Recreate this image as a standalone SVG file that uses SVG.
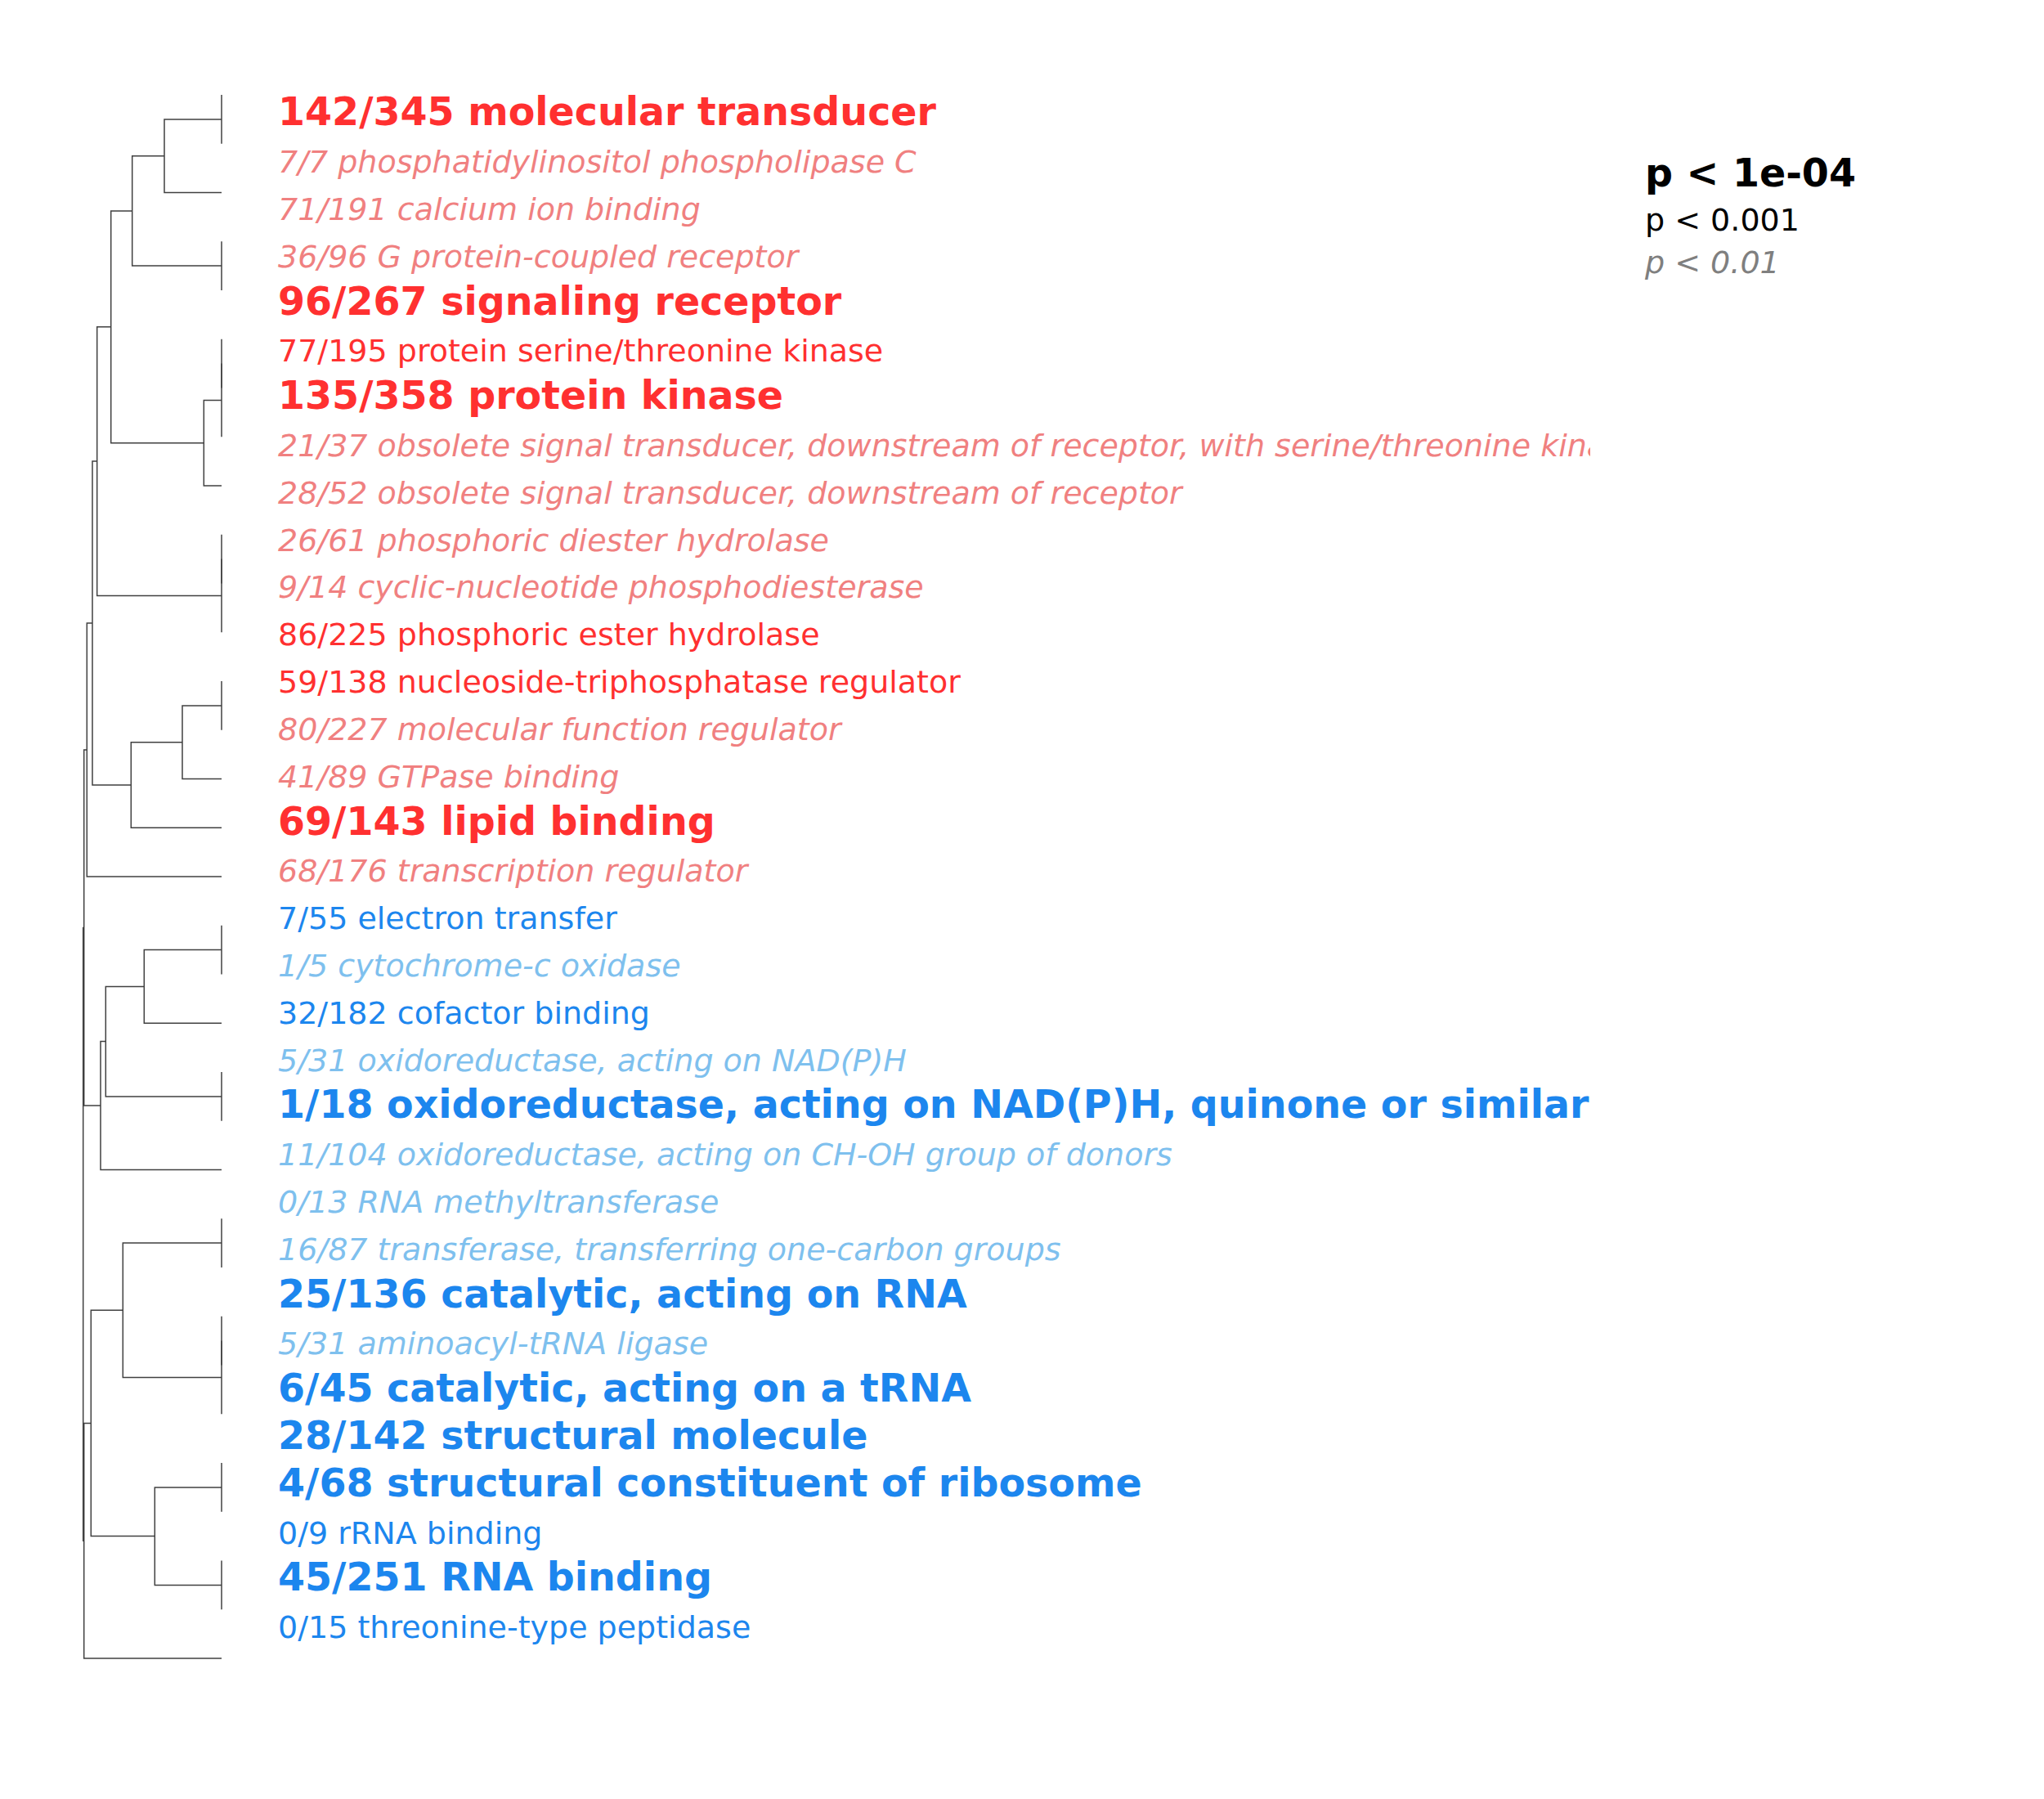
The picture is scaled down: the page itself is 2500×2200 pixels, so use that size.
<svg xmlns="http://www.w3.org/2000/svg" width="2500" height="2200" viewBox="0 0 2500 2200">
<defs>
<clipPath id="clip"><rect x="0" y="0" width="1945" height="2200"/></clipPath>
</defs>
<style>
text{font-family:"DejaVu Sans","Liberation Sans",sans-serif}
.b{font-size:47.5px;font-weight:bold}
.r{font-size:38px}
.i{font-size:38px;font-style:italic}
.rd{fill:#FF3030}
.lc{fill:#F08080}
.bl{fill:#1C86EE}
.sb{fill:#7EC0EE}
#tree path{fill:none;stroke:#404040;stroke-width:1.5}
</style>
<rect width="2500" height="2200" fill="#fff"/>
<g id="tree">
<path d="M271,116 V175.75"/>
<path d="M271,145.9 H201 V235.5 H271"/>
<path d="M271,295.25 V355"/>
<path d="M201,190.7 H161.7 V325.1 H271"/>
<path d="M271,414.75 V474.5"/>
<path d="M271,444.6 V534.25"/>
<path d="M271,489.4 H249.3 V594 H271"/>
<path d="M161.7,257.9 H135.7 V541.7 H249.3"/>
<path d="M271,653.75 V713.5"/>
<path d="M271,683.6 V773.25"/>
<path d="M135.7,399.8 H118.7 V728.4 H271"/>
<path d="M271,833 V892.75"/>
<path d="M271,862.9 H223 V952.5 H271"/>
<path d="M223,907.7 H160.3 V1012.25 H271"/>
<path d="M118.7,564.1 H113 V960 H160.3"/>
<path d="M113,762 H106.3 V1072 H271"/>
<path d="M271,1131.75 V1191.5"/>
<path d="M271,1161.6 H176.3 V1251.25 H271"/>
<path d="M271,1311 V1370.75"/>
<path d="M176.3,1206.4 H129.3 V1340.9 H271"/>
<path d="M129.3,1273.6 H123 V1430.5 H271"/>
<path d="M271,1490.25 V1550"/>
<path d="M271,1609.75 V1669.5"/>
<path d="M271,1639.6 V1729.25"/>
<path d="M271,1520.1 H150.3 V1684.4 H271"/>
<path d="M271,1789 V1848.75"/>
<path d="M271,1908.5 V1968.25"/>
<path d="M271,1818.9 H189.3 V1938.4 H271"/>
<path d="M150.3,1602.3 H111.3 V1878.6 H189.3"/>
<path d="M106.3,917 H102.7 V1352 H123"/>
<path d="M111.3,1740.5 H102.7 V2028 H271"/>
<path d="M102.7,1134.5 H101.7 V1884.2 H102.7"/>
</g>
<g clip-path="url(#clip)">
<g id="t0"><text x="340" y="153.3" class="b rd">142/345 molecular transducer</text></g>
<g id="t1"><text x="340" y="211.1" class="i lc">7/7 phosphatidylinositol phospholipase C</text></g>
<g id="t2"><text x="340" y="268.9" class="i lc">71/191 calcium ion binding</text></g>
<g id="t3"><text x="340" y="326.7" class="i lc">36/96 G protein-coupled receptor</text></g>
<g id="t4"><text x="340" y="384.5" class="b rd">96/267 signaling receptor</text></g>
<g id="t5"><text x="340" y="442.4" class="r rd">77/195 protein serine/threonine kinase</text></g>
<g id="t6"><text x="340" y="500.2" class="b rd">135/358 protein kinase</text></g>
<g id="t7"><text x="340" y="558" class="i lc">21/37 obsolete signal transducer, downstream of receptor, with serine/threonine kinase</text></g>
<g id="t8"><text x="340" y="615.8" class="i lc">28/52 obsolete signal transducer, downstream of receptor</text></g>
<g id="t9"><text x="340" y="673.6" class="i lc">26/61 phosphoric diester hydrolase</text></g>
<g id="t10"><text x="340" y="731.4" class="i lc">9/14 cyclic-nucleotide phosphodiesterase</text></g>
<g id="t11"><text x="340" y="789.2" class="r rd">86/225 phosphoric ester hydrolase</text></g>
<g id="t12"><text x="340" y="847" class="r rd">59/138 nucleoside-triphosphatase regulator</text></g>
<g id="t13"><text x="340" y="904.8" class="i lc">80/227 molecular function regulator</text></g>
<g id="t14"><text x="340" y="962.6" class="i lc">41/89 GTPase binding</text></g>
<g id="t15"><text x="340" y="1020.5" class="b rd">69/143 lipid binding</text></g>
<g id="t16"><text x="340" y="1078.3" class="i lc">68/176 transcription regulator</text></g>
<g id="t17"><text x="340" y="1136.1" class="r bl">7/55 electron transfer</text></g>
<g id="t18"><text x="340" y="1193.9" class="i sb">1/5 cytochrome-c oxidase</text></g>
<g id="t19"><text x="340" y="1251.7" class="r bl">32/182 cofactor binding</text></g>
<g id="t20"><text x="340" y="1309.5" class="i sb">5/31 oxidoreductase, acting on NAD(P)H</text></g>
<g id="t21"><text x="340" y="1367.3" class="b bl">1/18 oxidoreductase, acting on NAD(P)H, quinone or similar</text></g>
<g id="t22"><text x="340" y="1425.1" class="i sb">11/104 oxidoreductase, acting on CH-OH group of donors</text></g>
<g id="t23"><text x="340" y="1482.9" class="i sb">0/13 RNA methyltransferase</text></g>
<g id="t24"><text x="340" y="1540.7" class="i sb">16/87 transferase, transferring one-carbon groups</text></g>
<g id="t25"><text x="340" y="1598.6" class="b bl">25/136 catalytic, acting on RNA</text></g>
<g id="t26"><text x="340" y="1656.4" class="i sb">5/31 aminoacyl-tRNA ligase</text></g>
<g id="t27"><text x="340" y="1714.2" class="b bl">6/45 catalytic, acting on a tRNA</text></g>
<g id="t28"><text x="340" y="1772" class="b bl">28/142 structural molecule</text></g>
<g id="t29"><text x="340" y="1829.8" class="b bl">4/68 structural constituent of ribosome</text></g>
<g id="t30"><text x="340" y="1887.6" class="r bl">0/9 rRNA binding</text></g>
<g id="t31"><text x="340" y="1945.4" class="b bl">45/251 RNA binding</text></g>
<g id="t32"><text x="340" y="2003.2" class="r bl">0/15 threonine-type peptidase</text></g>
</g>
<g id="legend">
<text x="2012" y="228.3" class="b" fill="#000">p &lt; 1e-04</text>
<text x="2012" y="281.7" class="r" fill="#000">p &lt; 0.001</text>
<text x="2012" y="334" class="i" fill="#7F7F7F">p &lt; 0.01</text>
</g>
</svg>
